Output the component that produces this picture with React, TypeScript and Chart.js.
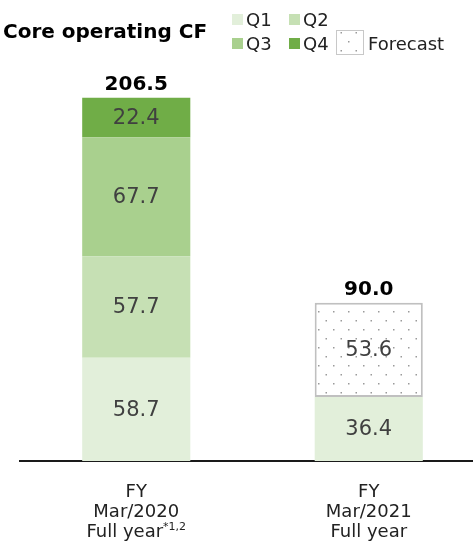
import React, { useEffect, useRef } from "react";
import { Chart, registerables } from "chart.js";

Chart.register(...registerables);

const categoryLines = [
  ["FY", "Mar/2020", "Full year"],
  ["FY", "Mar/2021", "Full year"],
];
const footnotes = ["*1,2", ""];
const q1 = [58.7, 36.4];
const q2 = [57.7, null];
const q3 = [67.7, null];
const q4 = [22.4, null];
const forecast = [null, 53.6];
const yMax = 228;

const colors = {
  q1: "#e2efda",
  q2: "#c6e0b4",
  q3: "#a9d08e",
  q4: "#70ad47",
};
const FONT = "'DejaVu Sans', Verdana, sans-serif";

function makeDotPattern(ctx: CanvasRenderingContext2D) {
  const c = document.createElement("canvas");
  c.width = 15;
  c.height = 18;
  const p = c.getContext("2d")!;
  p.fillStyle = "#ffffff";
  p.fillRect(0, 0, 15, 18);
  p.fillStyle = "#9a9a9a";
  p.fillRect(3, 5, 1.5, 1.5);
  p.fillRect(10.5, 14, 1.5, 1.5);
  return ctx.createPattern(c, "repeat")!;
}

export default function App() {
  const ref = useRef<HTMLCanvasElement>(null);
  useEffect(() => {
    document.body.style.margin = "0";
    const canvas = ref.current!;
    const ctx = canvas.getContext("2d")!;
    const pattern = makeDotPattern(ctx);

    const overlay = {
      id: "overlay",
      afterDatasetsDraw(chart: any) {
        const c = chart.ctx as CanvasRenderingContext2D;
        c.save();
        // segment labels
        c.textAlign = "center";
        c.textBaseline = "middle";
        c.font = `21px ${FONT}`;
        c.fillStyle = "#404040";
        chart.data.datasets.forEach((ds: any, di: number) => {
          const meta = chart.getDatasetMeta(di);
          meta.data.forEach((el: any, i: number) => {
            const v = ds.data[i];
            if (v == null) return;
            c.fillText(v.toFixed(1), el.x, (el.y + el.base) / 2 + 1);
          });
        });
        // totals
        c.font = `bold 20px ${FONT}`;
        c.fillStyle = "#000";
        c.textBaseline = "alphabetic";
        for (let i = 0; i < categoryLines.length; i++) {
          let total = 0;
          let top = Infinity;
          let x = 0;
          chart.data.datasets.forEach((ds: any, di: number) => {
            const v = ds.data[i];
            if (v == null) return;
            total += v;
            const el = chart.getDatasetMeta(di).data[i];
            top = Math.min(top, el.y);
            x = el.x;
          });
          c.fillText(total.toFixed(1), x, top - 8);
        }
        // x labels
        const xs = chart.scales.x;
        c.font = `18px ${FONT}`;
        c.fillStyle = "#222";
        categoryLines.forEach((lines, i) => {
          const cx = xs.getPixelForValue(i);
          lines.forEach((line, li) => {
            const y = 497 + li * 20;
            if (li === lines.length - 1 && footnotes[i]) {
              c.font = `18px ${FONT}`;
              const w1 = c.measureText(line).width;
              c.font = `11px ${FONT}`;
              const w2 = c.measureText(footnotes[i]).width;
              const start = cx - (w1 + w2) / 2;
              c.textAlign = "left";
              c.font = `18px ${FONT}`;
              c.fillText(line, start, y);
              c.font = `11px ${FONT}`;
              c.fillText(footnotes[i], start + w1, y - 7);
              c.textAlign = "center";
              c.font = `18px ${FONT}`;
            } else {
              c.fillText(line, cx, y);
            }
          });
        });
        // title
        c.textAlign = "left";
        c.font = `bold 20px ${FONT}`;
        c.fillStyle = "#000";
        c.fillText("Core operating CF", 3, 38);
        // legend
        c.font = `18px ${FONT}`;
        c.fillStyle = "#222";
        const items = [
          { label: "Q1", color: colors.q1, x: 232, y: 14 },
          { label: "Q2", color: colors.q2, x: 289, y: 14 },
          { label: "Q3", color: colors.q3, x: 232, y: 38 },
          { label: "Q4", color: colors.q4, x: 289, y: 38 },
        ];
        items.forEach((it) => {
          c.fillStyle = it.color;
          c.fillRect(it.x, it.y, 11, 11);
          c.fillStyle = "#222";
          c.fillText(it.label, it.x + 14, it.y + 12);
        });
        c.fillStyle = pattern;
        c.fillRect(336, 30, 28, 25);
        c.strokeStyle = "#c8c8c8";
        c.lineWidth = 1;
        c.strokeRect(336.5, 30.5, 27, 24);
        c.fillStyle = "#222";
        c.fillText("Forecast", 368, 50);
        c.restore();
      },
    };

    const chart = new Chart(ctx, {
      type: "bar",
      data: {
        labels: categoryLines.map((l) => l.join(" ")),
        datasets: [
          { label: "Q1", data: q1, backgroundColor: colors.q1 },
          { label: "Q2", data: q2, backgroundColor: colors.q2 },
          { label: "Q3", data: q3, backgroundColor: colors.q3 },
          { label: "Q4", data: q4, backgroundColor: colors.q4 },
          {
            label: "Forecast",
            data: forecast,
            backgroundColor: pattern,
            borderColor: "#c0c0c0",
            borderWidth: 2,
            borderSkipped: false,
            inflateAmount: 0,
          },
        ] as any,
      },
      options: {
        animation: false,
        responsive: false,
        maintainAspectRatio: false,
        events: [],
        layout: { padding: { left: 20, right: 0, top: 60, bottom: 0 } },
        datasets: { bar: { barPercentage: 0.93, categoryPercentage: 0.5 } } as any,
        plugins: { legend: { display: false }, tooltip: { enabled: false } },
        scales: {
          x: {
            stacked: true,
            grid: { display: false, drawTicks: false },
            border: { display: true, color: "#1a1a1a", width: 2 },
            ticks: { display: false },
            afterFit: (s: any) => {
              s.height = 84;
            },
          },
          y: {
            stacked: true,
            display: false,
            min: 0,
            max: yMax,
          },
        },
      },
      plugins: [overlay],
    });
    return () => chart.destroy();
  }, []);
  return (
    <div style={{ position: "absolute", left: 0, top: 0, width: 473, height: 545, overflow: "hidden", background: "#fff" }}>
      <canvas ref={ref} width={485} height={545} style={{ width: 485, height: 545, display: "block" }} />
    </div>
  );
}
